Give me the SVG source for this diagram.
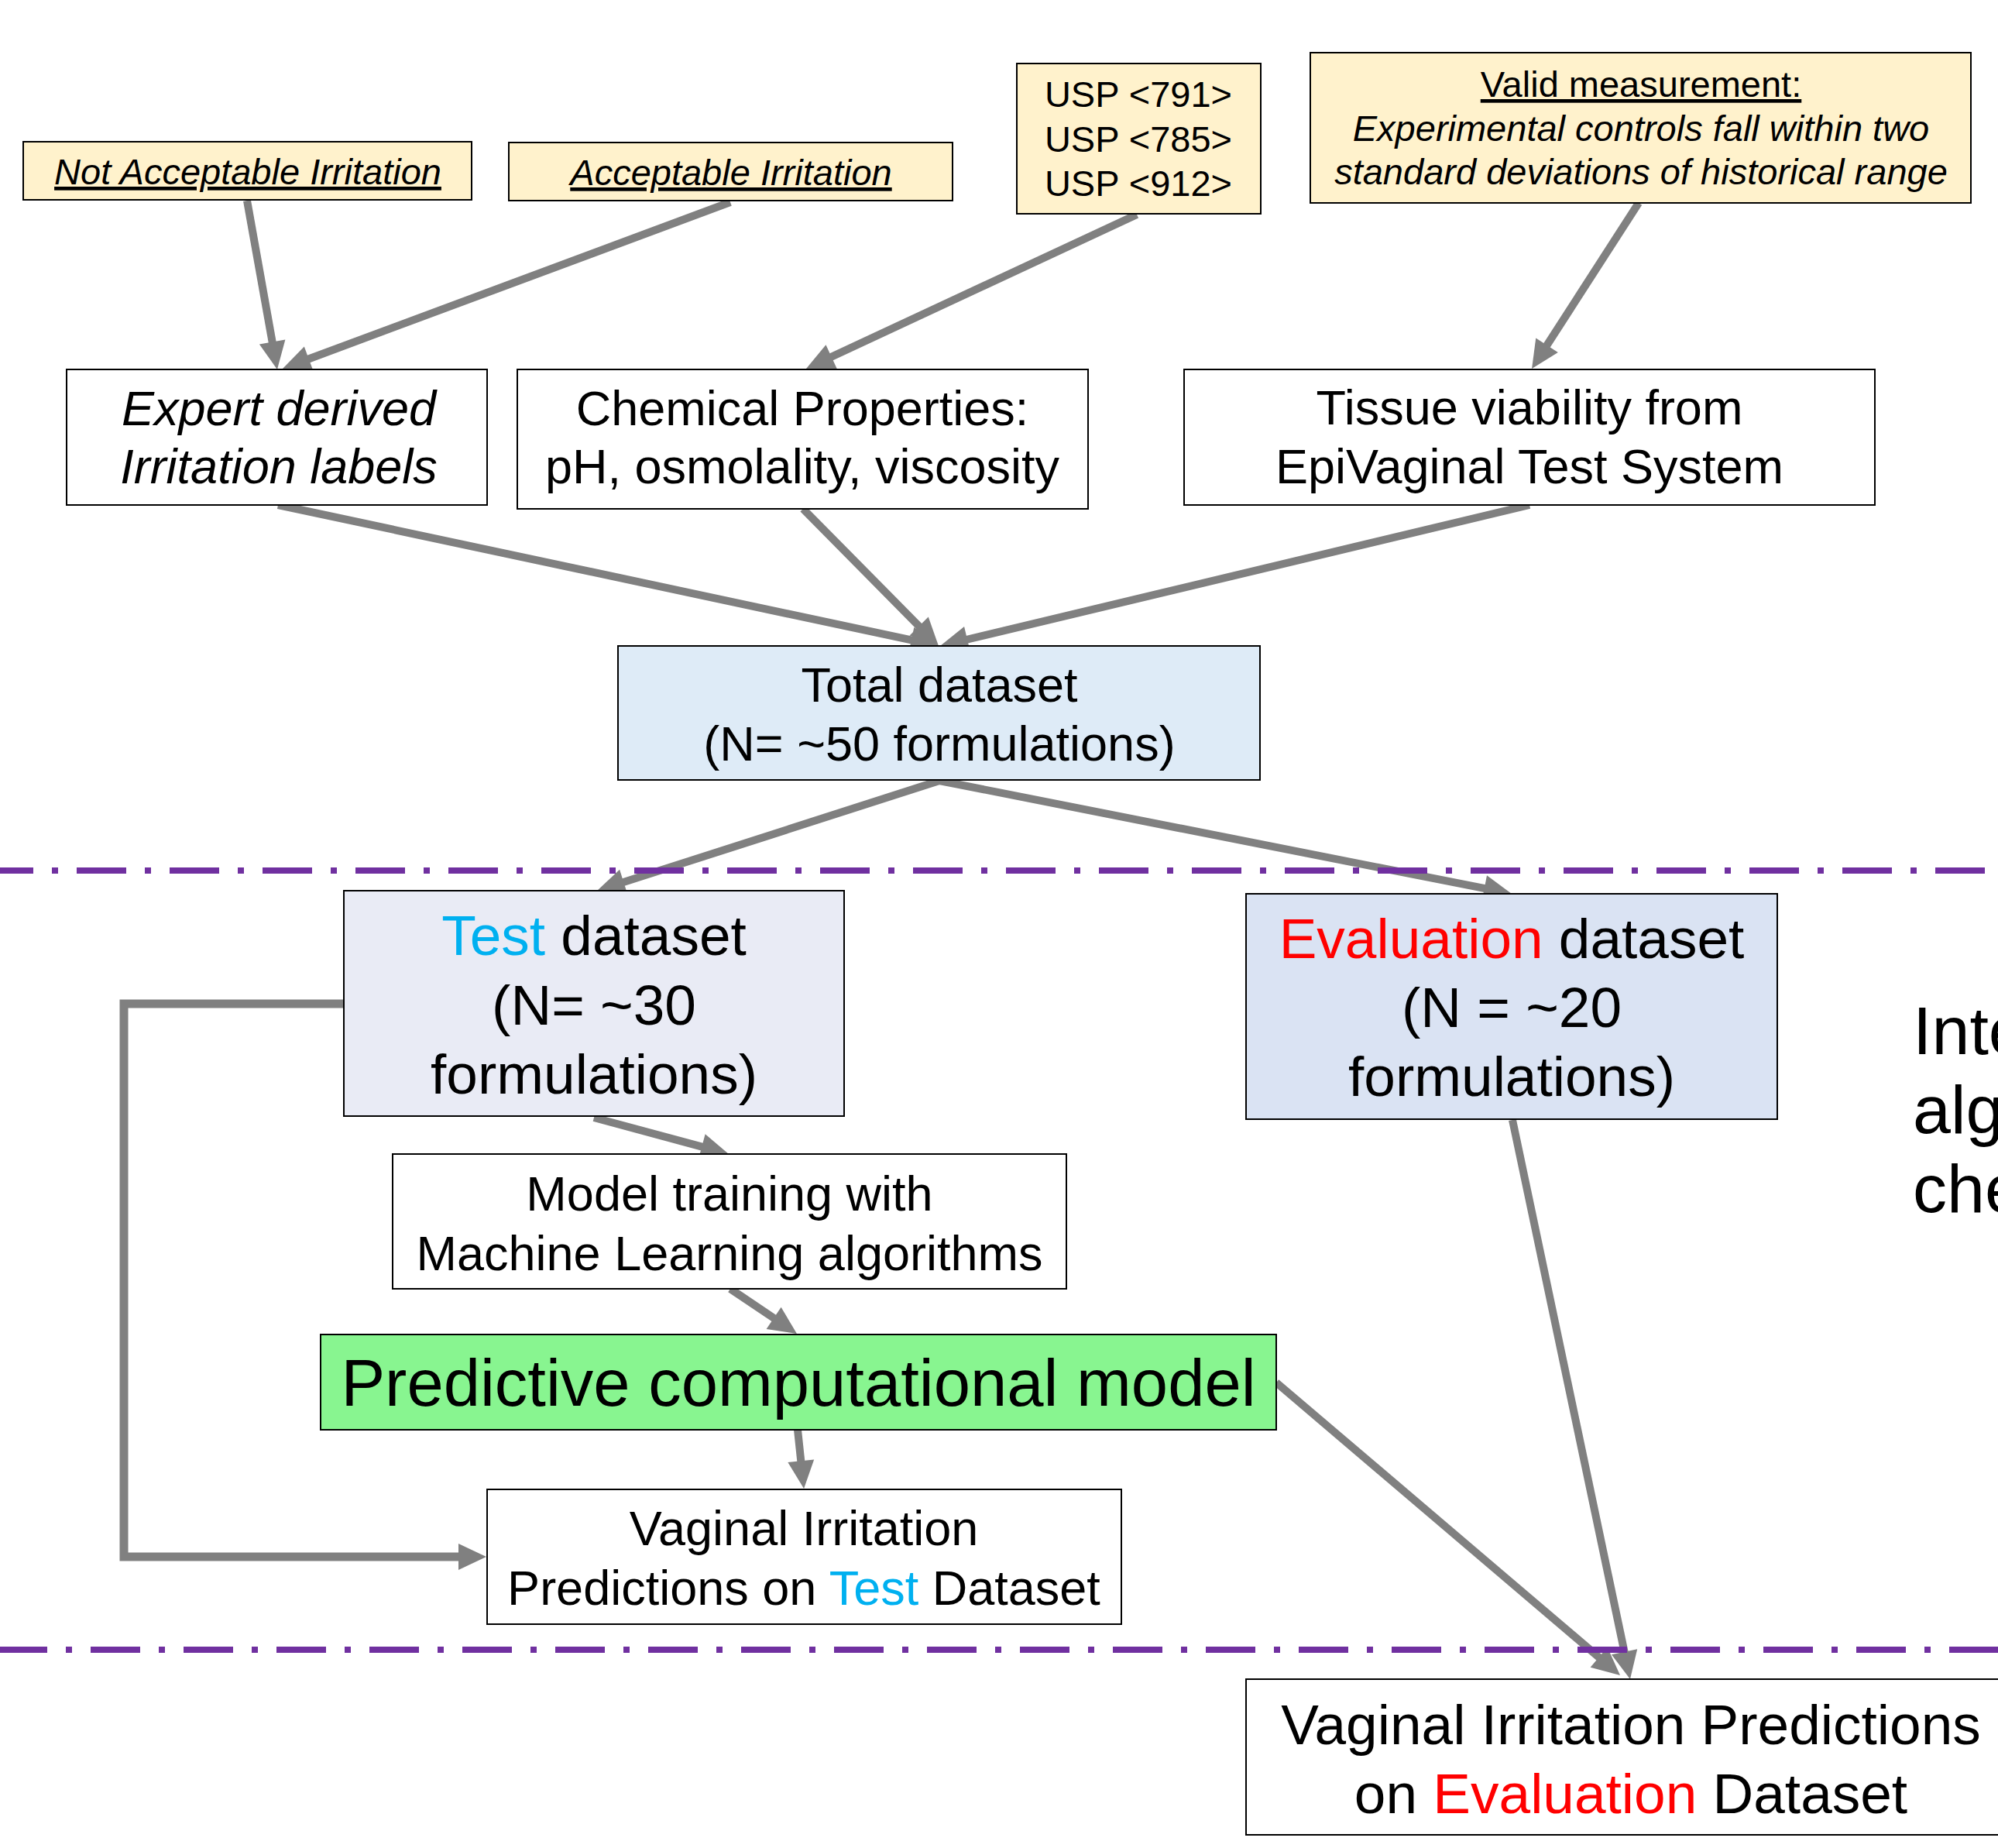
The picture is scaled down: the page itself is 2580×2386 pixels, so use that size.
<svg xmlns="http://www.w3.org/2000/svg" width="2580" height="2386" viewBox="0 0 2580 2386">
<style>
text{font-family:"Liberation Sans",Arial,sans-serif;fill:#000;text-anchor:middle}
.box{stroke:#000;stroke-width:2}
.note{fill:#FFF2CC}
.plain{fill:#FFFFFF}
.s47{font-size:47px}
.s63{font-size:63px}
.s73{font-size:73px}
.s85{font-size:85px}
.it{font-style:italic}
.ul{text-decoration:underline}
.blue{fill:#00B0F0}
.red{fill:#FF0000}
.conn{stroke:#808080;stroke-width:10;fill:none;stroke-linecap:butt}
.sep{stroke:#7030A0;stroke-width:8;stroke-dasharray:64 24 8 24}
</style>
<defs>
<marker id="ah" markerUnits="userSpaceOnUse" markerWidth="36" markerHeight="34" refX="6" refY="17" orient="auto" overflow="visible">
<path d="M0,0 L36,17 L0,34 z" fill="#808080"/>
</marker>
</defs>
<rect width="2580" height="2386" fill="#FFFFFF"/>

<g id="connectors">
<line class="conn" x1="319" y1="259" x2="352.7" y2="447.5" marker-end="url(#ah)"/>
<line class="conn" x1="943" y1="261" x2="393.1" y2="465.5" marker-end="url(#ah)"/>
<line class="conn" x1="1468" y1="277" x2="1068.2" y2="463.3" marker-end="url(#ah)"/>
<line class="conn" x1="2116" y1="262" x2="1994.3" y2="450.8" marker-end="url(#ah)"/>
<line class="conn" x1="359" y1="652" x2="1182.7" y2="827.7" marker-end="url(#ah)"/>
<line class="conn" x1="1037" y1="657" x2="1190.9" y2="812.7" marker-end="url(#ah)"/>
<line class="conn" x1="1975" y1="652" x2="1243.2" y2="827" marker-end="url(#ah)"/>
<line class="conn" x1="1213" y1="1008" x2="799.6" y2="1140.8" marker-end="url(#ah)"/>
<line class="conn" x1="1213" y1="1008" x2="1922.6" y2="1148.2" marker-end="url(#ah)"/>
<line class="conn" x1="767" y1="1443" x2="912" y2="1482.2" marker-end="url(#ah)"/>
<line class="conn" x1="943" y1="1664" x2="1004.1" y2="1705.2" marker-end="url(#ah)"/>
<line class="conn" x1="1030" y1="1846" x2="1034.9" y2="1892.2" marker-end="url(#ah)"/>
<path class="conn" style="stroke-width:11" d="M444,1296 H160 V2010 H598" marker-end="url(#ah)"/>
<line class="conn" x1="1648" y1="1785" x2="2069.2" y2="2143.6" marker-end="url(#ah)"/>
<line class="conn" x1="1953" y1="1446" x2="2098.8" y2="2138.6" marker-end="url(#ah)"/>
</g>

<g id="separators">
<line class="sep" x1="0" y1="1124" x2="2580" y2="1124" stroke-dashoffset="21"/>
<line class="sep" x1="0" y1="2130" x2="2580" y2="2130" stroke-dashoffset="3"/>
</g>

<g id="not-acceptable">
<rect class="box note" x="30" y="183" width="579" height="75"/>
<text class="s47 it ul" x="320" y="238">Not Acceptable Irritation</text>
</g>
<g id="acceptable">
<rect class="box note" x="657" y="184" width="573" height="75"/>
<text class="s47 it ul" x="944" y="239">Acceptable Irritation</text>
</g>
<g id="usp">
<rect class="box note" x="1313" y="82" width="315" height="194"/>
<text class="s47" x="1470" y="138">USP &lt;791&gt;</text>
<text class="s47" x="1470" y="196">USP &lt;785&gt;</text>
<text class="s47" x="1470" y="253">USP &lt;912&gt;</text>
</g>
<g id="valid-measurement">
<rect class="box note" x="1692" y="68" width="853" height="194"/>
<text class="s47 ul" x="2119" y="125">Valid measurement:</text>
<text class="s47 it" x="2119" y="182">Experimental controls fall within two</text>
<text class="s47 it" x="2119" y="238">standard deviations of historical range</text>
</g>

<g id="expert">
<rect class="box plain" x="86" y="477" width="543" height="175"/>
<text class="s63 it" x="360" y="549">Expert derived</text>
<text class="s63 it" x="360" y="624">Irritation labels</text>
</g>
<g id="chemical">
<rect class="box plain" x="668" y="477" width="737" height="180"/>
<text class="s63" x="1036" y="549">Chemical Properties:</text>
<text class="s63" x="1036" y="624">pH, osmolality, viscosity</text>
</g>
<g id="tissue">
<rect class="box plain" x="1529" y="477" width="892" height="175"/>
<text class="s63" x="1975" y="548">Tissue viability from</text>
<text class="s63" x="1975" y="624">EpiVaginal Test System</text>
</g>

<g id="total">
<rect class="box" fill="#DEEBF7" x="798" y="834" width="829" height="173"/>
<text class="s63" x="1213" y="906">Total dataset</text>
<text class="s63" x="1213" y="982">(N= ~50 formulations)</text>
</g>

<g id="test-dataset">
<rect class="box" fill="#E9EBF5" x="444" y="1150" width="646" height="291"/>
<text class="s73" x="767" y="1233"><tspan class="blue">Test</tspan> dataset</text>
<text class="s73" x="767" y="1323">(N= ~30</text>
<text class="s73" x="767" y="1412">formulations)</text>
</g>
<g id="evaluation-dataset">
<rect class="box" fill="#DAE3F3" x="1609" y="1154" width="686" height="291"/>
<text class="s73" x="1952" y="1237"><tspan class="red">Evaluation</tspan> dataset</text>
<text class="s73" x="1952" y="1326">(N = ~20</text>
<text class="s73" x="1952" y="1415">formulations)</text>
</g>

<g id="model-training">
<rect class="box plain" x="507" y="1490" width="870" height="174"/>
<text class="s63" x="942" y="1563">Model training with</text>
<text class="s63" x="942" y="1640">Machine Learning algorithms</text>
</g>
<g id="predictive-model">
<rect class="box" fill="#88F590" x="414" y="1723" width="1234" height="123"/>
<text class="s85" x="1031" y="1815">Predictive computational model</text>
</g>
<g id="predictions-test">
<rect class="box plain" x="629" y="1923" width="819" height="174"/>
<text class="s63" x="1038" y="1995">Vaginal Irritation</text>
<text class="s63" x="1038" y="2072">Predictions on <tspan class="blue">Test</tspan> Dataset</text>
</g>
<g id="predictions-evaluation">
<rect class="box plain" x="1609" y="2168" width="994" height="201"/>
<text class="s73" x="2106" y="2252">Vaginal Irritation Predictions</text>
<text class="s73" x="2106" y="2341">on <tspan class="red">Evaluation</tspan> Dataset</text>
</g>

<g id="side-text">
<text style="font-size:88px;text-anchor:start" x="2470" y="1361">Inte</text>
<text style="font-size:88px;text-anchor:start" x="2470" y="1463">alg</text>
<text style="font-size:88px;text-anchor:start" x="2470" y="1565">che</text>
</g>
</svg>
